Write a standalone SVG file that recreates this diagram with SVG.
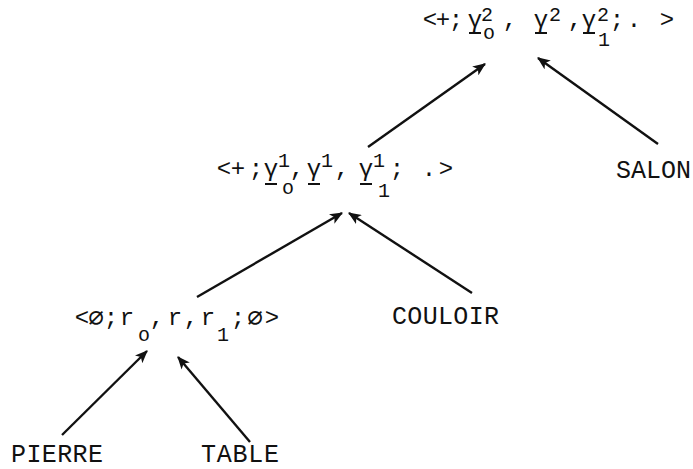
<svg xmlns="http://www.w3.org/2000/svg" width="693" height="469" viewBox="0 0 693 469">
<style>
text { font-family: "Liberation Mono", "DejaVu Sans Mono", monospace; fill: #111; }
.m { font-size: 24px; }
.s { font-size: 20px; }
.e { font-size: 26px; }
.lbl { font-size: 25px; }
.c { text-anchor: middle; }
.ul { stroke: #111; stroke-width: 2; }
.edge { stroke: #111; stroke-width: 2.4; fill: none; marker-end: url(#arr); }
</style>
<defs>
<marker id="arr" viewBox="0 0 12 10" refX="11" refY="5" markerWidth="13" markerHeight="11" markerUnits="userSpaceOnUse" orient="auto">
<path d="M0,0 L12,5 L0,10 L3,5 z" fill="#111"/>
</marker>
</defs>
<rect width="693" height="469" fill="#fff"/>
<g id="connectors">
<line class="edge" x1="62" y1="435" x2="147" y2="351"/>
<line class="edge" x1="250" y1="442" x2="178" y2="357"/>
<line class="edge" x1="197" y1="297" x2="342" y2="213"/>
<line class="edge" x1="472" y1="293" x2="349" y2="213"/>
<line class="edge" x1="368" y1="147" x2="485" y2="64"/>
<line class="edge" x1="658" y1="144" x2="538" y2="58"/>
</g>
<g id="node-top">
<text class="m c"><tspan x="430" y="27">&lt;</tspan><tspan x="443" y="27">+</tspan><tspan x="456" y="27">;</tspan><tspan x="475" y="27">γ</tspan><tspan class="s" x="487" y="21">2</tspan><tspan class="s" x="489" y="39">o</tspan><tspan x="510" y="27">,</tspan><tspan x="541" y="27">γ</tspan><tspan class="s" x="555" y="21">2</tspan><tspan x="575" y="27">,</tspan><tspan x="589" y="27">γ</tspan><tspan class="s" x="603" y="21">2</tspan><tspan class="s" x="604" y="46">1</tspan><tspan x="617" y="27">;</tspan><tspan x="634" y="27">.</tspan><tspan x="667" y="27">&gt;</tspan></text>
<line class="ul" x1="469" y1="33" x2="481" y2="33"/>
<line class="ul" x1="535" y1="33" x2="547" y2="33"/>
<line class="ul" x1="583" y1="33" x2="595" y2="33"/>
</g>
<g id="node-mid">
<text class="m c"><tspan x="224" y="176">&lt;</tspan><tspan x="238" y="176">+</tspan><tspan x="256" y="176">;</tspan><tspan x="271" y="176">γ</tspan><tspan class="s" x="284" y="167">1</tspan><tspan class="s" x="288" y="194">o</tspan><tspan x="297" y="176">,</tspan><tspan x="314" y="176">γ</tspan><tspan class="s" x="327" y="167">1</tspan><tspan x="342" y="176">,</tspan><tspan x="366" y="176">γ</tspan><tspan class="s" x="379" y="167">1</tspan><tspan class="s" x="384" y="197">1</tspan><tspan x="397" y="176">;</tspan><tspan x="429" y="176">.</tspan><tspan x="446" y="176">&gt;</tspan></text>
<line class="ul" x1="265" y1="184" x2="277" y2="184"/>
<line class="ul" x1="308" y1="184" x2="320" y2="184"/>
<line class="ul" x1="360" y1="184" x2="372" y2="184"/>
</g>
<g id="node-low">
<text class="m c"><tspan x="82" y="325">&lt;</tspan><tspan class="e" x="96" y="326">∅</tspan><tspan x="111" y="325">;</tspan><tspan x="127" y="325">r</tspan><tspan class="s" x="144" y="341">o</tspan><tspan x="157" y="325">,</tspan><tspan x="175" y="325">r</tspan><tspan x="191" y="325">,</tspan><tspan x="208" y="325">r</tspan><tspan class="s" x="223" y="341">1</tspan><tspan x="238" y="325">;</tspan><tspan class="e" x="255" y="326">∅</tspan><tspan x="272" y="325">&gt;</tspan></text>
</g>
<g id="salon"><text class="lbl" x="616" y="178" textLength="75" lengthAdjust="spacing">SALON</text></g>
<g id="couloir"><text class="lbl" x="392" y="324" textLength="107" lengthAdjust="spacing">COULOIR</text></g>
<g id="pierre"><text class="lbl" x="11" y="462" textLength="92" lengthAdjust="spacing">PIERRE</text></g>
<g id="table"><text class="lbl" x="201" y="462" textLength="78" lengthAdjust="spacing">TABLE</text></g>
</svg>
